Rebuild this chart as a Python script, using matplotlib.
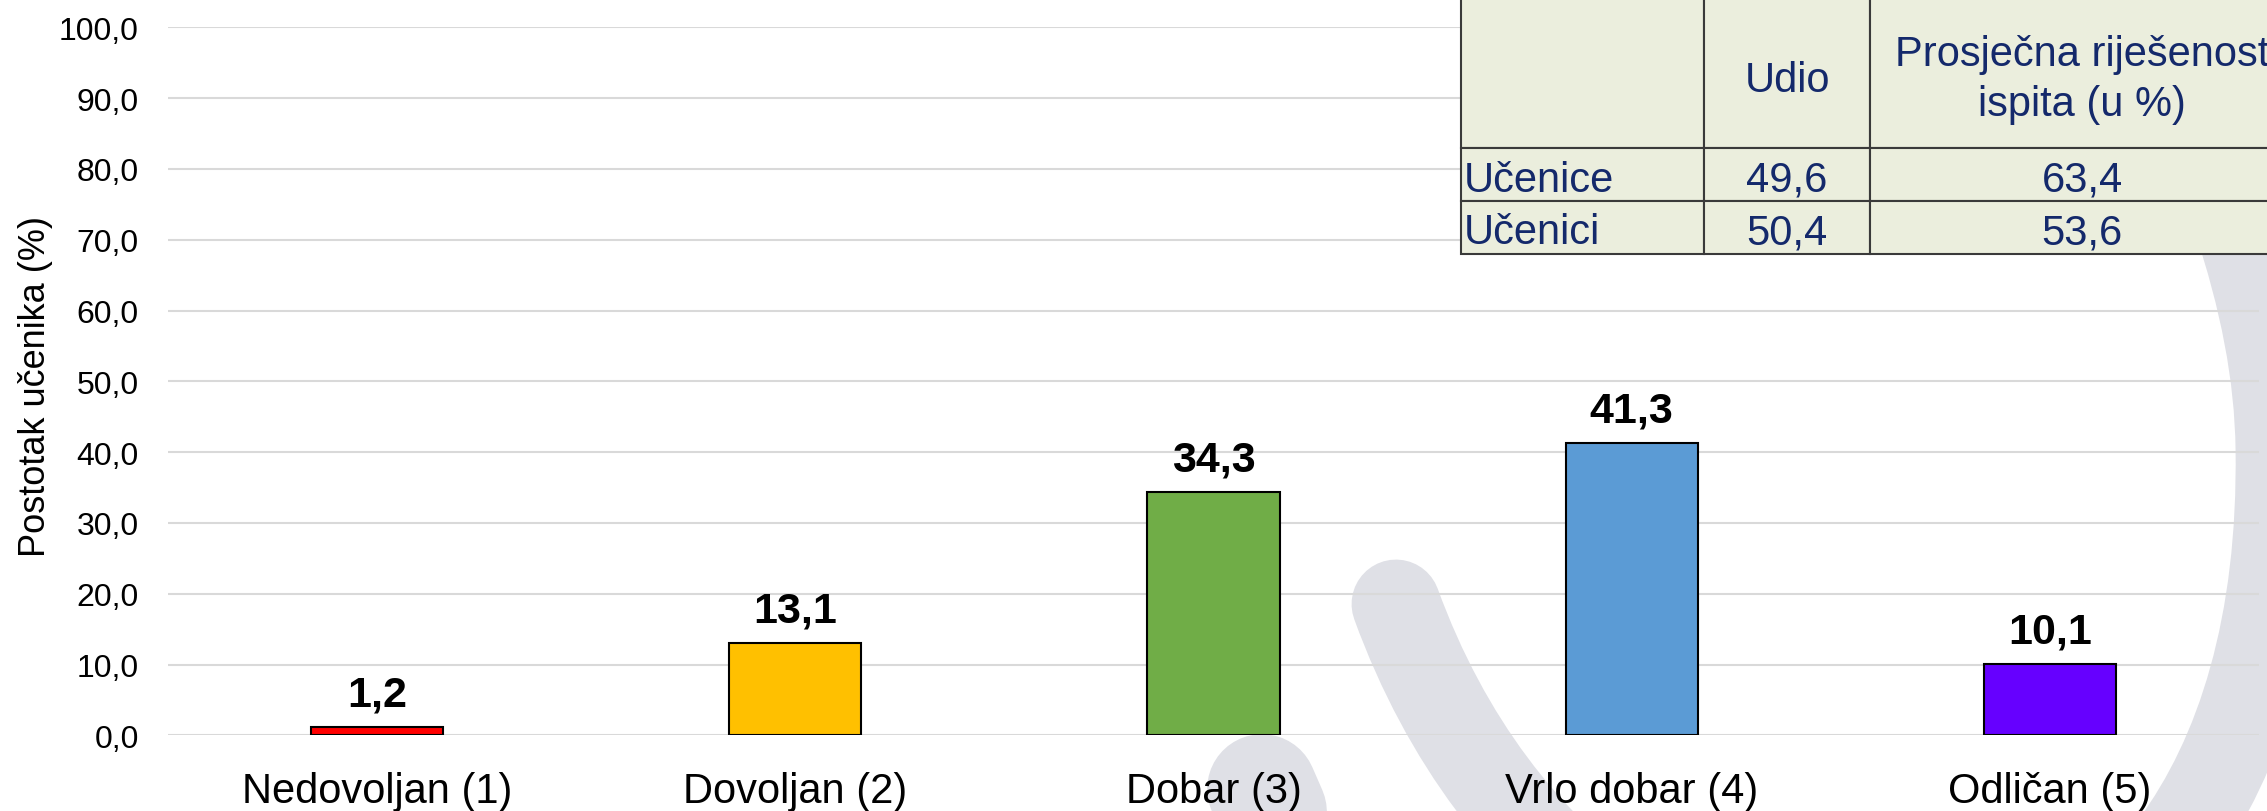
import matplotlib
matplotlib.use('Agg')
import matplotlib.pyplot as plt
from matplotlib.patches import Rectangle, PathPatch
from matplotlib.path import Path

plt.rcParams['font.family'] = ['Liberation Sans', 'DejaVu Sans']

# chart data
categories = ['Nedovoljan (1)', 'Dovoljan (2)', 'Dobar (3)', 'Vrlo dobar (4)', 'Odličan (5)']
percentages = [1.2, 13.1, 34.3, 41.3, 10.1]
bar_colors = ['#FF0000', '#FFC000', '#70AD47', '#5B9BD5', '#6600FF']
yticks = list(range(0, 101, 10))

# table data
table_header = ['Udio', 'Prosječna riješenost\nispita (u %)']
table_rows = ['Učenice', 'Učenici']
udio = [49.6, 50.4]
rijesenost = [63.4, 53.6]

W, H = 2267, 812
TXT = '#14296B'
WM = '#DFE0E6'


def fx(x):
    return x / W


def fy(y):
    return 1 - y / H


def fmt(v):
    return ('%.1f' % v).replace('.', ',')


fig = plt.figure(figsize=(W / 100, H / 100), dpi=100)
fig.patch.set_facecolor('white')

# watermark logo in the background
verts = [(1396, 605), (1596, 1155), (2290, 1150), (2280, 450),
         (2278, 300), (2220, 150), (2120, -60)]
codes = [Path.MOVETO] + [Path.CURVE4] * 6
wm_path = Path([(fx(x), fy(y)) for x, y in verts], codes)
fig.add_artist(PathPatch(wm_path, facecolor='none', edgecolor=WM, lw=64,
                         capstyle='round', transform=fig.transFigure, zorder=-2))
wm2 = Path([(fx(1262), fy(790)), (fx(1310), fy(900))], [Path.MOVETO, Path.LINETO])
fig.add_artist(PathPatch(wm2, facecolor='none', edgecolor=WM, lw=79,
                         capstyle='round', transform=fig.transFigure, zorder=-2))

ax = fig.add_axes([fx(168), fy(736.3), fx(2259) - fx(168), fy(28.3) - fy(736.3)])
ax.set_facecolor('none')

x = range(len(categories))
ax.bar(x, percentages, width=0.316, color=bar_colors, edgecolor='black',
       linewidth=1.5, zorder=3)
for i, v in enumerate(percentages):
    ax.annotate(fmt(v), (i, v), xytext=(0, 9), textcoords='offset points',
                ha='center', va='bottom', fontsize=31, fontweight='bold')

ax.set_xlim(-0.5, len(categories) - 0.5)
ax.set_ylim(0, 100)
ax.set_yticks(yticks)
ax.set_yticklabels([fmt(v) for v in yticks], fontsize=23)
ax.set_xticks(list(x))
ax.set_xticklabels(categories, fontsize=30)
ax.tick_params(axis='both', length=0)
ax.tick_params(axis='y', pad=21)
ax.tick_params(axis='x', pad=26)
ax.yaxis.grid(True, color='#D9D9D9', linewidth=1.5)
ax.set_axisbelow(True)
for s in ax.spines.values():
    s.set_visible(False)

fig.text(fx(36), fy(387), 'Postotak učenika (%)', rotation=90,
         ha='center', va='center', fontsize=26)

# table in the top right corner
col_x = [1461, 1704, 1870, 2295]
row_y = [-5, 149, 202, 255]
for r in range(3):
    for c in range(3):
        fig.add_artist(Rectangle((fx(col_x[c]), fy(row_y[r + 1])),
                                 fx(col_x[c + 1]) - fx(col_x[c]),
                                 fy(row_y[r]) - fy(row_y[r + 1]),
                                 facecolor='#EBEEDD', edgecolor='#3A3A3A', lw=1.5,
                                 transform=fig.transFigure, zorder=5))

fig.text(fx(1787), fy(81), table_header[0], ha='center', va='center',
         fontsize=30, color=TXT, zorder=6)
fig.text(fx(2082), fy(80), table_header[1], ha='center', va='center',
         fontsize=30, color=TXT, linespacing=1.35, multialignment='center', zorder=6)
for i, name in enumerate(table_rows):
    yc = (row_y[i + 1] + row_y[i + 2]) / 2 + 5
    fig.text(fx(1464), fy(yc), name, ha='left', va='center', fontsize=30,
             color=TXT, zorder=6)
    fig.text(fx(1787), fy(yc), fmt(udio[i]), ha='center', va='center',
             fontsize=30, color=TXT, zorder=6)
    fig.text(fx(2082), fy(yc), fmt(rijesenost[i]), ha='center', va='center',
             fontsize=30, color=TXT, zorder=6)

fig.savefig('out.png', dpi=100)
